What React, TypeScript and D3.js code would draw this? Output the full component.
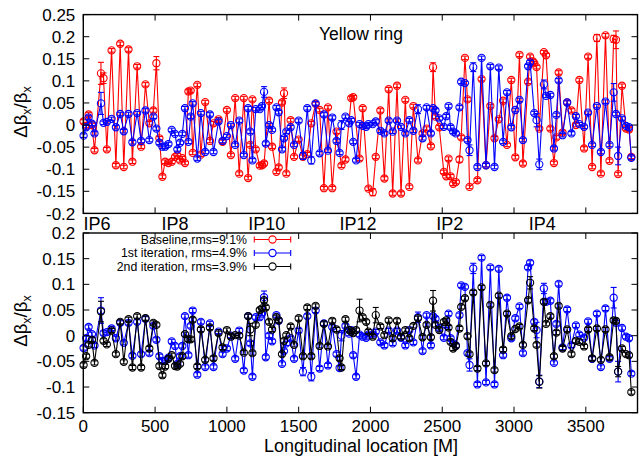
import React from 'react';
import * as d3 from 'd3';

// BPM locations along the ring [m]
const positions = [
  2, 20, 37, 60, 78, 123, 141, 164, 197, 227,
  257, 282, 315, 342, 375, 403, 433, 460, 488, 509,
  530, 551, 570, 593, 616, 639, 655, 674, 690, 708,
  732, 748, 762, 794, 819, 849, 882, 907, 942, 970,
  1000, 1028, 1058, 1086, 1118, 1148, 1163, 1178, 1201, 1229,
  1245, 1259, 1271, 1294, 1315, 1345, 1361, 1384, 1398, 1414,
  1444, 1468, 1500, 1530, 1560, 1588, 1618, 1646, 1676, 1704,
  1734, 1764, 1785, 1798, 1826, 1852, 1866, 1880, 1900, 1924,
  1946, 1970, 1986, 2016, 2037, 2069, 2097, 2127, 2155, 2185,
  2213, 2243, 2271, 2299, 2331, 2363, 2391, 2421, 2436, 2453,
  2479, 2511, 2528, 2544, 2558, 2576, 2595, 2620, 2632, 2658,
  2676, 2690, 2716, 2745, 2774, 2805, 2835, 2864, 2894, 2924,
  2951, 2981, 3009, 3038, 3062, 3098, 3112, 3132, 3141, 3157,
  3176, 3208, 3223, 3253, 3278, 3295, 3311, 3338, 3370, 3400,
  3431, 3455, 3488, 3516, 3544, 3577, 3605, 3637, 3665, 3694,
  3710, 3725, 3752, 3780, 3801, 3817,
];

const baseline = [
  0.008, -0.002, 0.024, 0.0, -0.057, 0.117, 0.106, -0.055, 0.169, -0.091,
  0.184, -0.095, 0.171, -0.083, 0.133, -0.049, 0.092, 0.004, 0.033, 0.14,
  -0.03, -0.117, -0.083, -0.086, -0.083, -0.072, -0.068, -0.08, -0.075, -0.086,
  0.076, 0.078, -0.063, 0.091, -0.067, 0.052, -0.036, 0.004, 0.013, -0.038,
  0.034, -0.068, 0.061, -0.11, 0.061, -0.12, -0.045, 0.058, -0.055, -0.092,
  -0.091, -0.087, null, 0.055, -0.049, -0.106, -0.096, 0.051, 0.072, -0.11,
  0.011, -0.072, -0.033, -0.072, -0.066, 0.004, 0.048, 0.034, -0.143, 0.04,
  -0.143, -0.015, null, -0.092, -0.078, null, 0.061, 0.063, null, -0.076,
  0.038, null, -0.144, -0.152, -0.072, 0.033, -0.121, 0.081, -0.155, 0.089,
  -0.155, 0.057, -0.14, 0.043, -0.08, -0.019, -0.008, -0.048, 0.131, 0.019,
  -0.005, -0.106, -0.116, -0.076, -0.116, -0.133, -0.129, -0.078, -0.028, 0.152,
  0.058, -0.14, null, -0.125, 0.104, -0.091, 0.043, -0.03, 0.013, 0.055,
  -0.045, 0.102, -0.073, 0.159, -0.087, 0.098, 0.155, 0.144, 0.14, 0.131,
  -0.008, 0.165, 0.158, -0.008, -0.086, -0.028, 0.119, -0.017, 0.051, 0.033,
  0.0, 0.102, -0.053, 0.155, -0.095, 0.197, -0.11, 0.203, -0.081, 0.195,
  0.193, -0.111, 0.089, -0.008, -0.01, -0.072,
];

const iter1 = [
  -0.024, -0.005, 0.017, 0.003, -0.019, 0.049, 0.005, 0.007, 0.014, -0.005,
  0.025, -0.014, 0.025, -0.039, 0.027, -0.036, 0.033, -0.034, 0.019, -0.008,
  -0.04, -0.049, -0.049, -0.043, -0.011, -0.02, -0.055, -0.04, -0.02, 0.038,
  -0.038, 0.019, 0.049, -0.076, 0.027, -0.061, 0.024, -0.061, 0.008, -0.036,
  -0.025, 0.0, -0.045, 0.01, -0.068, 0.038, -0.015, -0.08, 0.036, 0.036,
  0.043, 0.075, -0.042, 0.0, -0.011, 0.04, 0.029, -0.055, -0.03, -0.015,
  -0.005, -0.045, 0.01, -0.07, 0.038, -0.08, 0.049, -0.064, 0.024, -0.058,
  0.017, -0.036, -0.063, 0.0, 0.019, 0.004, 0.011, -0.038, -0.08, 0.002,
  -0.002, -0.004, 0.002, 0.002, 0.008, -0.013, -0.019, 0.01, -0.015, 0.01,
  -0.004, -0.019, 0.011, -0.013, 0.036, -0.03, 0.04, -0.019, 0.038, 0.033,
  0.015, -0.004, 0.02, 0.043, -0.005, -0.015, -0.019, 0.04, 0.098, 0.095,
  -0.034, -0.057, 0.131, -0.095, 0.152, -0.091, 0.133, -0.095, 0.13, -0.038,
  0.074, -0.005, 0.034, 0.057, -0.034, 0.133, 0.142, null, 0.027, 0.011,
  -0.089, 0.092, 0.066, 0.068, -0.053, 0.023, 0.101, -0.023, 0.051, -0.019,
  0.02, 0.002, -0.004, 0.028, -0.045, 0.043, -0.061, 0.053, -0.045, 0.074,
  0.025, -0.07, 0.015, -0.002, -0.005, -0.074,
];

const iter2 = [
  -0.057, -0.04, -0.018, -0.008, -0.053, 0.047, -0.01, -0.017, 0.01, -0.036,
  0.027, -0.051, 0.032, -0.062, 0.038, -0.062, 0.034, -0.025, 0.025, 0.021,
  -0.059, -0.077, -0.06, -0.045, -0.038, -0.059, -0.06, -0.055, -0.04, 0.003,
  -0.007, -0.007, 0.031, -0.06, 0.012, -0.047, 0.016, -0.044, 0.005, -0.023,
  0.011, -0.002, 0.001, 0.0, -0.033, 0.038, 0.012, -0.034, 0.021, 0.05,
  0.053, 0.069, 0.055, 0.027, 0.012, 0.036, 0.03, -0.036, -0.01, 0.001,
  0.018, -0.018, 0.034, -0.04, 0.055, -0.04, 0.058, -0.02, 0.023, -0.021,
  0.029, 0.012, -0.044, -0.062, 0.032, 0.011, 0.008, 0.005, 0.011, 0.049,
  0.036, 0.027, 0.008, -0.002, 0.04, 0.018, 0.001, 0.03, -0.005, 0.029,
  -0.002, 0.011, -0.005, 0.019, 0.034, -0.003, 0.021, -0.003, 0.068, 0.021,
  0.011, 0.027, 0.03, 0.016, -0.012, -0.025, -0.02, 0.014, 0.056, 0.073,
  -0.001, -0.036, 0.084, -0.064, 0.094, -0.054, 0.06, -0.067, 0.078, -0.027,
  0.043, -0.001, 0.013, 0.018, -0.018, 0.069, 0.103, null, 0.014, -0.018,
  -0.09, 0.066, 0.023, 0.038, -0.04, 0.006, 0.058, -0.025, 0.012, -0.036,
  -0.01, -0.012, -0.021, 0.012, -0.044, 0.014, -0.047, 0.012, -0.042, 0.03,
  0.029, -0.07, -0.025, -0.036, -0.038, -0.11,
];

// error bars: most are small, a few larger ones listed as [position, error]
const defaultErr = 0.004;
const baselineBigErr = [[123, 0.025], [141, 0.012], [509, 0.015], [1398, 0.012], [2436, 0.01], [2016, 0.008], [3577, 0.008], [3694, 0.008], [3710, 0.02], [2620, 0.006]];
const iter1BigErr = [[123, 0.025], [1259, 0.012], [1798, 0.01], [2331, 0.01], [2690, 0.012], [2716, 0.01], [3157, 0.015], [3176, 0.012], [3208, 0.01], [3694, 0.02], [3725, 0.02], [1530, 0.008], [1588, 0.008]];
const iter2BigErr = [[123, 0.02], [1924, 0.022], [2436, 0.02], [1163, 0.012], [2037, 0.015], [3112, 0.012], [3176, 0.012], [3725, 0.01]];

const topYTicks = [-0.2, -0.15, -0.1, -0.05, 0, 0.05, 0.1, 0.15, 0.2, 0.25];
const bottomYTicks = [-0.15, -0.1, -0.05, 0, 0.05, 0.1, 0.15, 0.2];
const xTicks = [0, 500, 1000, 1500, 2000, 2500, 3000, 3500];
const ipNames = ['IP6', 'IP8', 'IP10', 'IP12', 'IP2', 'IP4'];
const ipPositions = [95, 638, 1278, 1914, 2553, 3196];
const legendLabels = ['Baseline,rms=9.1%', '1st iteration, rms=4.9%', '2nd iteration, rms=3.9%'];

const RED = '#ff0000';
const BLUE = '#0000ff';
const BLACK = '#000000';
const FONT = '"Liberation Sans", Arial, Helvetica, sans-serif';

const x = d3.scaleLinear().domain([0, 3860]).range([83.3, 637.5]);
const yTop = d3.scaleLinear().domain([-0.2, 0.25]).range([213.4, 14.6]);
const yBot = d3.scaleLinear().domain([-0.15, 0.2]).range([412.7, 233]);

const fmt = (v: number) => String(+v.toFixed(2));

function buildPoints(values: (number | null)[], big: number[][]) {
  const errMap = new Map(big.map(d => [d[0], d[1]]));
  const pts: { s: number; v: number; e: number }[] = [];
  positions.forEach((s, i) => {
    const v = values[i];
    if (v === null || v === undefined) return;
    pts.push({ s, v, e: errMap.get(s) ?? defaultErr });
  });
  return pts;
}

const Series = ({ values, big, y, color }: any) => {
  const pts = buildPoints(values, big);
  const line = d3.line<any>().x(d => x(d.s)).y(d => y(d.v));
  return (
    <g stroke={color} fill="none" strokeWidth={1.1}>
      <path d={line(pts) || ''} />
      {pts.map((d, i) => {
        const cx = x(d.s);
        const y1 = y(d.v + d.e);
        const y2 = y(d.v - d.e);
        return (
          <g key={i}>
            <line x1={cx} x2={cx} y1={y1} y2={y2} />
            <line x1={cx - 3} x2={cx + 3} y1={y1} y2={y1} />
            <line x1={cx - 3} x2={cx + 3} y1={y2} y2={y2} />
            <circle cx={cx} cy={y(d.v)} r={3.6} />
          </g>
        );
      })}
    </g>
  );
};

const Frame = ({ y, ticks, showXLabels }: any) => {
  const [y0, y1] = y.range();
  const [x0, x1] = x.range();
  return (
    <g>
      <rect x={x0} y={y1} width={x1 - x0} height={y0 - y1} fill="none" stroke="#000" strokeWidth={1.4} />
      {ticks.map((t: number, i: number) => (
        <g key={'y' + i}>
          <line x1={x0} x2={x0 + 6} y1={y(t)} y2={y(t)} stroke="#000" strokeWidth={1} />
          <line x1={x1} x2={x1 - 6} y1={y(t)} y2={y(t)} stroke="#000" strokeWidth={1} />
          <text x={x0 - 8} y={y(t)} dy="0.36em" textAnchor="end" fontSize={17} fontFamily={FONT}>{fmt(t)}</text>
        </g>
      ))}
      {xTicks.map((t, i) => (
        <g key={'x' + i}>
          <line x1={x(t)} x2={x(t)} y1={y0} y2={y0 - 6} stroke="#000" strokeWidth={1} />
          <line x1={x(t)} x2={x(t)} y1={y1} y2={y1 + 6} stroke="#000" strokeWidth={1} />
          {showXLabels && (
            <text x={x(t)} y={431.5} textAnchor="middle" fontSize={17} fontFamily={FONT}>{t}</text>
          )}
        </g>
      ))}
    </g>
  );
};

const YLabel = ({ cy }: { cy: number }) => (
  <text transform={`translate(27,${cy}) rotate(-90)`} textAnchor="middle" fontSize={18.5} fontFamily={FONT}>
    Δβ<tspan fontSize={12.5} dy={4}>x</tspan><tspan dy={-4}>/β</tspan><tspan fontSize={12.5} dy={4}>x</tspan>
  </text>
);

export default function App() {
  const legendColors = [RED, BLUE, BLACK];
  const legendY = [239.5, 253, 266.5];
  return (
    <svg width={639} height={459} style={{ position: 'absolute', left: 0, top: 0, background: '#fff' }}>
      <rect width={639} height={459} fill="#fff" />
      {/* top panel */}
      <Series values={baseline} big={baselineBigErr} y={yTop} color={RED} />
      <Series values={iter1} big={iter1BigErr} y={yTop} color={BLUE} />
      <Frame y={yTop} ticks={topYTicks} showXLabels={false} />
      <text x={361} y={40} textAnchor="middle" fontSize={17.5} fontFamily={FONT}>Yellow ring</text>
      {ipNames.map((n, i) => (
        <text key={n} x={x(ipPositions[i])} y={230} textAnchor="middle" fontSize={18} fontFamily={FONT}>{n}</text>
      ))}
      <YLabel cy={112} />

      {/* bottom panel */}
      <Series values={iter1} big={iter1BigErr} y={yBot} color={BLUE} />
      <Series values={iter2} big={iter2BigErr} y={yBot} color={BLACK} />
      <Frame y={yBot} ticks={bottomYTicks} showXLabels={true} />
      <YLabel cy={321} />
      <text x={361} y={452} textAnchor="middle" fontSize={18} fontFamily={FONT}>Longitudinal location [M]</text>

      {legendLabels.map((l, i) => (
        <g key={l}>
          <text x={247} y={legendY[i]} dy="0.35em" textAnchor="end" fontSize={12.3} fontFamily={FONT}>{l}</text>
          <g stroke={legendColors[i]} strokeWidth={1.1} fill="none">
            <line x1={254.3} x2={290.7} y1={legendY[i]} y2={legendY[i]} />
            <line x1={254.3} x2={254.3} y1={legendY[i] - 3} y2={legendY[i] + 3} />
            <line x1={290.7} x2={290.7} y1={legendY[i] - 3} y2={legendY[i] + 3} />
            <circle cx={272.5} cy={legendY[i]} r={3.6} fill="#fff" />
          </g>
        </g>
      ))}
    </svg>
  );
}
